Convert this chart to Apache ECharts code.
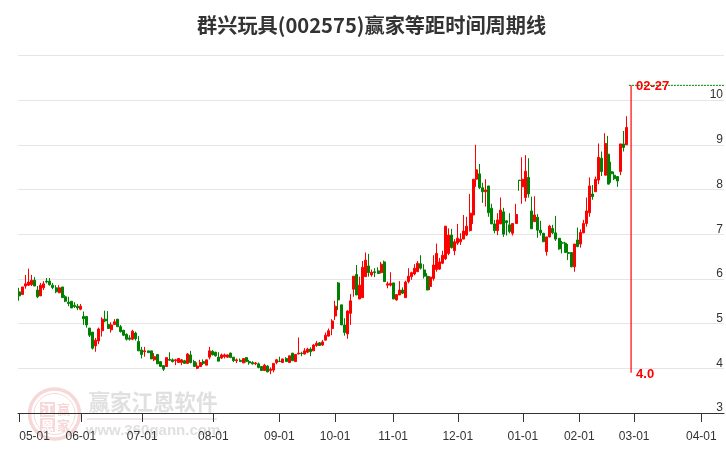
<!DOCTYPE html>
<html><head><meta charset="utf-8">
<style>html,body{margin:0;padding:0;background:#fff}#c{width:726px;height:450px}</style>
<script src="https://cdn.jsdelivr.net/npm/echarts@6/dist/echarts.min.js"></script>
</head><body><div id="c"></div>
<script>
const tickLabels=['05-01','06-01','07-01','08-01','09-01','10-01','11-01','12-01','01-01','02-01','03-01','04-01'];
const tickSlots=[0,20.1,40.1,63.3,84.8,103,121.9,143,164.2,182.6,200.5,222.4];
const opens=[5.71,5.65,5.84,5.86,5.87,5.97,5.75,5.62,5.80,5.95,
5.95,5.86,5.80,5.69,5.82,5.60,5.48,5.50,5.41,5.39,
5.32,5.16,5.16,4.90,4.81,4.50,4.61,4.84,5.10,4.98,
4.86,4.98,5.10,4.93,4.85,4.76,4.68,4.65,4.79,4.60,
4.41,4.37,4.39,4.39,4.19,4.31,4.15,4.06,4.04,4.20,
4.19,4.17,4.13,4.13,4.17,4.11,4.30,4.15,4.00,4.04,
4.15,4.07,4.25,4.38,4.36,4.25,4.23,4.26,4.25,4.34,
4.25,4.17,4.18,4.12,4.24,4.15,4.13,4.10,4.10,4.04,
3.95,4.05,3.95,3.96,4.13,4.16,4.13,4.22,4.13,4.34,
4.15,4.32,4.34,4.32,4.36,4.43,4.39,4.51,4.57,4.52,
4.63,4.72,4.89,5.17,5.91,5.42,4.97,4.77,5.23,5.77,
6.10,5.55,5.58,6.05,6.29,6.09,6.16,6.18,6.14,6.38,
5.86,5.86,5.91,5.53,5.64,5.75,5.58,5.94,6.05,6.11,
6.16,6.34,6.20,6.06,5.83,6.01,6.21,6.22,6.35,6.45,
6.57,6.98,6.63,6.80,6.83,6.89,6.98,7.08,7.43,8.23,
8.35,8.04,7.95,8.08,7.58,7.23,7.08,7.23,7.50,7.30,
7.21,7.02,7.24,8.21,8.06,7.82,8.27,7.52,7.28,7.38,
7.09,7.02,6.61,6.94,7.13,7.03,6.91,6.81,6.80,6.59,
6.59,6.27,6.87,6.78,7.03,7.24,7.48,7.90,7.95,8.21,
8.70,8.32,8.79,8.40,8.32,8.29,8.40,9.02,9.00];
const closes=[5.62,5.82,5.89,5.93,5.97,5.84,5.60,5.86,5.89,5.93,
5.87,5.81,5.71,5.80,5.58,5.50,5.45,5.35,5.38,5.35,
5.39,5.11,4.97,4.74,4.45,4.63,4.88,5.10,5.06,4.89,
4.97,5.04,4.93,4.82,4.74,4.65,4.65,4.83,4.66,4.39,
4.31,4.39,4.35,4.21,4.26,4.10,4.04,3.98,4.24,4.18,
4.15,4.19,4.22,4.19,4.11,4.32,4.13,4.04,4.05,4.13,
4.11,4.19,4.39,4.30,4.28,4.16,4.30,4.30,4.30,4.24,
4.17,4.19,4.15,4.22,4.15,4.12,4.10,4.12,4.02,3.95,
4.07,3.92,3.98,4.11,4.19,4.15,4.21,4.15,4.28,4.17,
4.31,4.34,4.33,4.39,4.43,4.37,4.52,4.56,4.51,4.59,
4.74,4.84,5.06,5.39,5.53,4.97,4.80,5.28,5.51,6.06,
5.64,5.86,6.26,6.42,6.14,6.15,6.14,6.12,6.33,5.94,
5.89,5.90,5.55,5.65,5.75,5.68,5.93,6.06,6.14,6.24,
6.35,6.24,6.06,5.75,6.04,6.31,6.57,6.38,6.53,7.18,
6.98,6.70,6.83,6.91,6.89,7.07,7.18,7.47,8.23,8.44,
8.04,7.95,7.99,7.48,7.23,7.08,7.32,7.54,7.00,7.26,
7.06,7.24,7.44,8.20,8.23,8.41,7.90,7.12,7.43,7.09,
7.03,6.83,6.94,7.18,7.03,6.89,6.67,6.80,6.59,6.57,
6.27,6.78,6.72,7.04,7.24,7.52,8.08,7.84,8.23,8.72,
8.40,9.03,8.12,8.35,8.24,8.19,9.02,8.94,9.39];
const lows=[5.51,5.65,5.78,5.84,5.84,5.84,5.57,5.62,5.75,5.90,
5.85,5.77,5.68,5.68,5.58,5.48,5.39,5.35,5.35,5.30,
5.30,4.97,4.91,4.70,4.42,4.37,4.54,4.71,5.03,4.88,
4.80,4.97,4.93,4.80,4.72,4.62,4.62,4.63,4.62,4.39,
4.22,4.26,4.35,4.21,4.16,4.10,4.04,3.94,4.04,4.18,
4.13,4.07,4.13,4.07,4.10,4.10,4.11,4.04,3.98,4.03,
4.07,4.07,4.20,4.29,4.26,4.16,4.21,4.22,4.23,4.23,
4.14,4.12,4.15,4.12,4.13,4.08,4.08,4.07,4.00,3.95,
3.95,3.91,3.87,3.91,4.09,4.15,4.13,4.15,4.13,4.17,
4.15,4.31,4.27,4.31,4.34,4.27,4.39,4.48,4.50,4.50,
4.63,4.71,4.74,5.08,5.30,4.97,4.73,4.66,4.97,5.60,
5.64,5.55,5.58,6.05,6.05,6.05,6.04,6.12,6.12,5.94,
5.79,5.83,5.55,5.51,5.64,5.66,5.58,5.90,5.98,6.08,
6.16,6.21,6.01,5.75,5.75,5.96,6.16,6.20,6.33,6.42,
6.53,6.68,6.53,6.76,6.76,6.89,6.96,7.06,7.23,8.06,
8.01,7.70,7.62,7.39,7.23,7.02,6.98,7.23,6.94,6.97,
7.02,6.97,7.24,7.97,7.68,7.73,7.82,7.12,7.28,6.92,
6.97,6.83,6.52,6.93,7.00,6.85,6.65,6.57,6.59,6.42,
6.26,6.16,6.72,6.70,7.02,7.17,7.39,7.77,7.95,8.12,
8.30,8.32,8.12,8.15,8.21,8.06,8.32,8.85,9.00];
const highs=[5.80,5.82,6.09,6.23,6.09,6.04,5.84,5.91,5.95,6.02,
6.02,5.91,5.86,5.86,5.82,5.64,5.60,5.50,5.48,5.44,
5.44,5.27,5.17,4.90,4.81,4.68,4.91,5.14,5.29,5.28,
5.03,5.10,5.10,4.97,4.86,4.78,4.74,4.86,4.82,4.72,
4.48,4.48,4.39,4.39,4.34,4.31,4.15,4.06,4.24,4.36,
4.22,4.21,4.22,4.21,4.19,4.34,4.39,4.19,4.13,4.19,
4.20,4.19,4.48,4.41,4.37,4.36,4.33,4.33,4.31,4.35,
4.25,4.22,4.22,4.22,4.25,4.19,4.16,4.14,4.13,4.04,
4.10,4.07,4.02,4.11,4.21,4.26,4.21,4.25,4.28,4.34,
4.31,4.69,4.37,4.45,4.46,4.47,4.54,4.61,4.59,4.63,
4.80,4.89,5.10,5.51,5.93,5.42,5.12,5.30,5.66,6.06,
6.31,6.05,6.40,6.59,6.56,6.21,6.24,6.26,6.38,6.41,
5.94,6.15,5.91,5.65,5.95,5.81,5.96,6.24,6.16,6.33,
6.40,6.53,6.33,6.13,6.06,6.53,6.79,6.47,6.63,7.18,
7.13,7.12,6.89,7.23,7.02,7.43,7.39,7.90,8.23,9.00,
8.57,8.15,8.23,8.08,7.68,7.32,7.47,7.82,7.59,7.30,
7.47,7.24,7.68,8.21,8.72,8.77,8.70,7.84,7.85,7.45,
7.30,7.03,6.94,7.21,7.21,7.41,6.91,6.85,6.83,6.78,
6.60,6.78,7.15,7.11,7.32,7.82,8.27,8.10,8.29,9.03,
8.85,9.26,9.20,8.62,8.40,8.30,9.02,9.31,9.64];
const cycleSlot=199.5, cycleTop=10.33, cycleBottom=3.9;
const cycleDate='02-27', cycleLow='4.0';
const slotMin=-0.4, slotMax=229.8;

const chart=echarts.init(document.getElementById('c'),null,{renderer:'canvas'});
const sans='"Liberation Sans",Arial,sans-serif';
const cjk='"Noto Sans CJK SC",sans-serif';
const wm='#e0e0e0', seal='#f6d8d8';
chart.setOption({
 animation:false,
 title:{text:'群兴玩具(002575)赢家等距时间周期线',left:192,top:10,
  textStyle:{fontFamily:cjk,fontSize:20.2,fontWeight:'bold',color:'#333'}},
 grid:{left:18,right:0,top:55.4,bottom:37},
 xAxis:{type:'value',min:slotMin,max:slotMax,splitLine:{show:false},
  axisLine:{onZero:false,lineStyle:{color:'#333',width:1}},
  axisTick:{show:true,length:9,lineStyle:{color:'#333'},customValues:tickSlots},
  axisLabel:{customValues:tickSlots,margin:17.5,color:'#333',fontFamily:sans,fontSize:12,
   alignMinLabel:'left',formatter:v=>tickLabels[tickSlots.indexOf(v)]||''}},
 yAxis:{type:'value',min:3,max:11,interval:1,position:'right',
  axisLine:{show:false},axisTick:{show:false},
  splitLine:{lineStyle:{color:'#e6e6e6',width:1}},
  axisLabel:{inside:true,margin:1,color:'#333',fontFamily:sans,fontSize:12,align:'right',verticalAlign:'bottom',
   padding:[0,0,-1,0],showMaxLabel:false}},
 graphic:{elements:[
  {type:'circle',z:-10,silent:true,shape:{cx:54.5,cy:414,r:25},style:{fill:'none',stroke:seal,lineWidth:3.5}},
  {type:'circle',z:-10,silent:true,shape:{cx:54.5,cy:414,r:20.5},style:{fill:'none',stroke:seal,lineWidth:1}},
  {type:'rect',z:-10,silent:true,shape:{x:40,y:402,width:15,height:15},style:{fill:seal}},
  {type:'rect',z:-10,silent:true,shape:{x:40,y:418,width:15,height:14},style:{fill:seal}},
  {type:'text',z:-9,silent:true,style:{x:47.5,y:409.5,text:'江',fill:'#fff',font:'bold 13px '+cjk,align:'center',verticalAlign:'middle'}},
  {type:'text',z:-9,silent:true,style:{x:63.5,y:409.5,text:'赢',fill:seal,font:'bold 13px '+cjk,align:'center',verticalAlign:'middle'}},
  {type:'text',z:-9,silent:true,style:{x:47.5,y:425,text:'恩',fill:'#fff',font:'bold 13px '+cjk,align:'center',verticalAlign:'middle'}},
  {type:'text',z:-9,silent:true,style:{x:63.5,y:425,text:'家',fill:seal,font:'bold 13px '+cjk,align:'center',verticalAlign:'middle'}},
  {type:'text',z:-9,silent:true,style:{x:153,y:402,text:'赢家江恩软件',fill:wm,font:'bold 21.5px '+cjk,align:'center',verticalAlign:'middle'}},
  {type:'rect',z:-9,silent:true,shape:{x:87,y:418,width:130,height:2},style:{fill:'#efe6e6'}},
  {type:'text',z:-9,silent:true,style:{x:153,y:431,text:'www.360gann.com',fill:wm,font:'bold 15px '+sans,align:'center',verticalAlign:'middle'}}
 ]},
 series:[
  {type:'candlestick',barWidth:2.5,encode:{x:0,y:[1,2,3,4]},
   itemStyle:{color:'#ff0000',color0:'#008000',borderColor:'#ff0000',borderColor0:'#008000',borderWidth:1},
   data:opens.map((o,i)=>[i,o,closes[i],lows[i],highs[i]])},
  {type:'line',symbol:'none',silent:true,z:3,lineStyle:{color:'#008000',width:1,type:[2,1]},
   data:[[cycleSlot-0.7,cycleTop],[slotMax,cycleTop]]},
  {type:'line',symbol:'circle',symbolSize:0.01,showSymbol:true,silent:true,z:4,
   lineStyle:{color:'#ff0000',width:1.2},itemStyle:{color:'#ff0000'},
   label:{show:true,position:'right',distance:4,offset:[1,1.5],color:'#ff0000',fontFamily:sans,fontSize:13,fontWeight:'bold',
    formatter:p=>p.dataIndex===0?cycleDate:cycleLow},
   data:[[cycleSlot,cycleTop],[cycleSlot,cycleBottom]]}
 ]
});
</script></body></html>
